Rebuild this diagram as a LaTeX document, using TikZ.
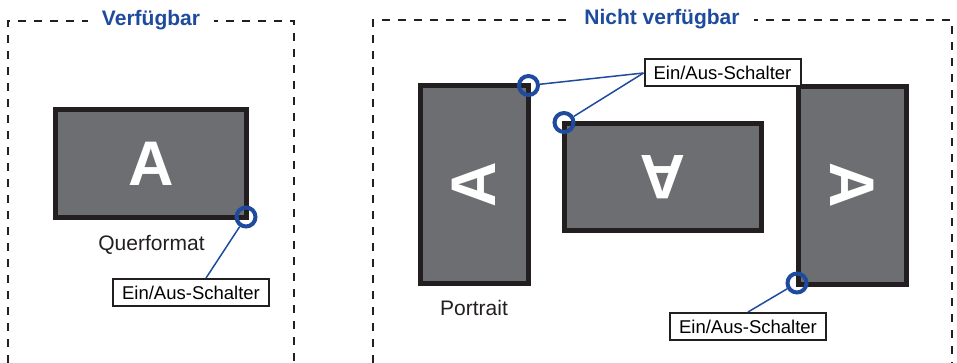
\documentclass[tikz,border=0pt]{standalone}
\usepackage{fontspec}
\setmainfont{Liberation Sans}
\definecolor{swblue}{RGB}{30,75,158}
\definecolor{scrgray}{RGB}{109,110,113}
\definecolor{scrframe}{RGB}{35,31,32}

\begin{document}
\begin{tikzpicture}[x=1pt,y=-1pt]
    \tikzstyle{screen}=[draw=scrframe,fill=scrgray,line width=5pt,minimum width=191pt,minimum height=108pt,inner sep=0pt,text=white,font=\fontsize{63}{63}\selectfont\bfseries]
    \tikzstyle{power}=[circle,draw=swblue,line width=4pt,minimum size=19pt,inner sep=0pt]
    \tikzstyle{switch}=[draw=scrframe,line width=2pt,fill=white,minimum width=156pt,minimum height=27pt,inner sep=0pt,font=\fontsize{18.5}{18.5}\selectfont]
    \tikzstyle{frame}=[draw=scrframe,line width=2.3pt,dash pattern=on 8pt off 8pt]
    \tikzstyle{title}=[fill=white,text=swblue,inner xsep=14pt,anchor=base,font=\fontsize{21}{21}\selectfont\bfseries]
    \tikzstyle{caption}=[text=scrframe,anchor=base,font=\fontsize{21}{21}\selectfont]
    \useasboundingbox (0,0) rectangle (957,363);

    % dashed frames with their titles
    \draw[frame] (8,363) |- (294,21) -- (294,363);
    \draw[frame] (373,363) |- (952,20) -- (952,363);
    \node[title] (T-ok) at (151,26) {Verfügbar};
    \node[title] (T-no) at (662,25) {Nicht verfügbar};

    % screens
    \node[screen] (S-land) at (151,163.5) {A};
    \node[screen,rotate=90,minimum width=198pt] (S-left) at (474,184.5) {A};
    \node[screen,rotate=180,minimum width=197pt,minimum height=107pt] (S-flip) at (663,177) {A};
    \node[screen,rotate=-90,minimum width=198pt] (S-right) at (852.5,185.5) {A};

    \node[caption] (C-land) at (151.5,251) {Querformat};
    \node[caption] (C-port) at (474,315) {Portrait};

    % power switches
    \foreach \name/\x/\y in {P-1/246/217, P-2/528.5/85.5, P-3/564/122.5, P-4/797/283}
        \node[power] (\name) at (\x,\y) {};

    \node[switch] (L-1) at (191,292.5) {Ein/Aus-Schalter};
    \node[switch] (L-2) at (722.5,73) {Ein/Aus-Schalter};
    \node[switch] (L-3) at (748,326.5) {Ein/Aus-Schalter};

    \foreach \from/\to in {P-1/L-1.44, P-2/L-2.west, P-3/L-2.west, P-4/L-3.north}
        \draw[swblue,line width=1.5pt] (\from) -- (\to);
\end{tikzpicture}
\end{document}
